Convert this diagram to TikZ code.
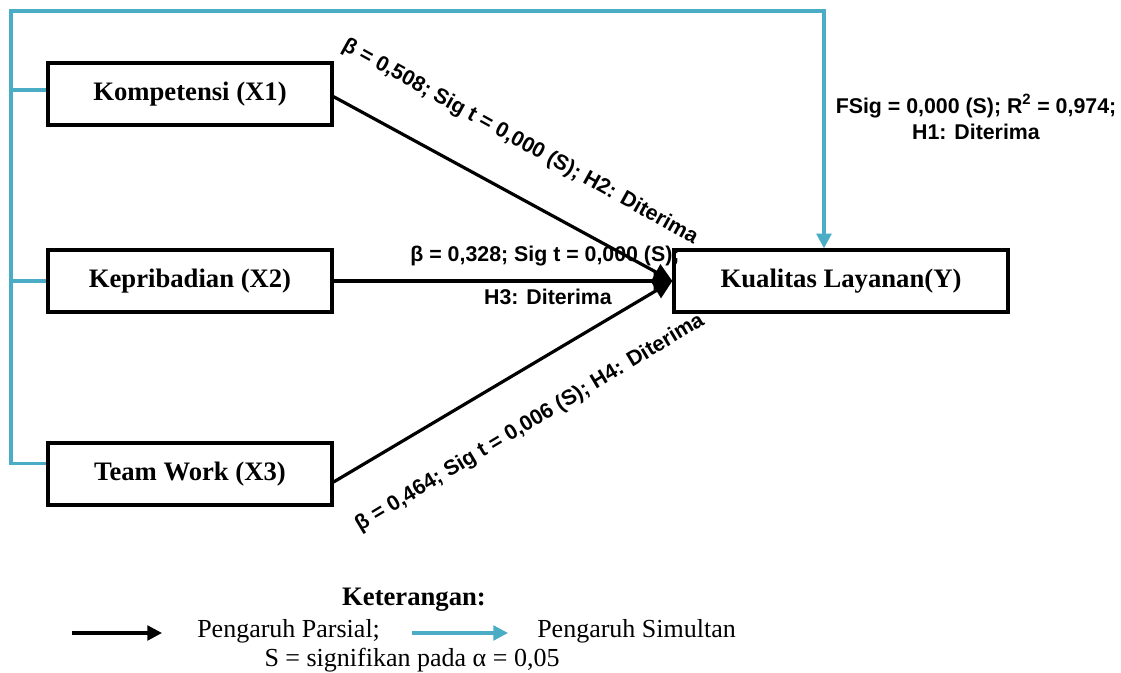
\documentclass[tikz,border=0pt]{standalone}
\usepackage{fontspec}
\setmainfont{Liberation Serif}
\newfontfamily\lblfont{Liberation Sans}
\usetikzlibrary{arrows.meta,positioning}
\definecolor{simblue}{RGB}{75,172,198}

\begin{document}
\begin{tikzpicture}[
    x=0.75pt, y=-0.75pt,
    box/.style={rectangle, draw=black, line width=2.4pt, minimum width=213pt, minimum height=46.5pt, font=\fontsize{20}{24}\selectfont\bfseries},
    arr/.style={-{Triangle[length=14pt,width=13pt]}, line width=2.4pt, black},
    simul/.style={line width=2.4pt, simblue},
    simarr/.style={simul, -{Triangle[length=11pt,width=11pt]}},
    lbl/.style={font=\lblfont\fontsize{16}{19.5}\selectfont\bfseries, inner sep=0pt},
    ket/.style={font=\fontsize{19.5}{22}\selectfont, inner sep=0pt}
  ]
    \useasboundingbox (0,0) rectangle (1121,673);
    \node[box] (komp) at (190,94) {Kompetensi (X1)};
    \node[box] (kepr) at (190,281) {Kepribadian (X2)};
    \node[box] (team) at (190,474) {Team Work (X3)};
    \node[box, minimum width=250.5pt] (kual) at (841,281) {Kualitas Layanan(Y)};
    % simultan
    \coordinate (railtop) at (11,11);
    \draw[simarr] ([yshift=8pt]team.west) -| (railtop) -| ([xshift=-12.75pt]kual.north);
    \draw[simul] ([yshift=3pt]komp.west) -- ++(-37,0);
    \draw[simul] (kepr.west) -- ++(-37,0);
    % parsial
    \draw[arr] ([yshift=-2pt]komp.east) -- (kual.west);
    \draw[arr] (kepr.east) -- (kual.west);
    \draw[arr] ([yshift=-6pt]team.east) -- (kual.west);
    \node[lbl, rotate=-29] (h2) at (520,142) {β = 0,508; Sig t = 0,000 (S); H2: Diterima};
    \node[lbl] (h3a) at (545,256) {β = 0,328; Sig t = 0,000 (S);};
    \node[lbl] (h3b) at (548,297) {H3: Diterima};
    \node[lbl, rotate=31] (h4) at (530,423) {β = 0,464; Sig t = 0,006 (S); H4: Diterima};
    \node[lbl, align=center] (h1) at (976,117) {FSig = 0,000 (S); R\textsuperscript{2} = 0,974;\\H1: Diterima};
    % keterangan
    \node[ket, font=\fontsize{20}{22}\selectfont\bfseries] (ket) at (414,600) {Keterangan:};
    \coordinate (parsA) at (72,633);
    \coordinate (parsB) at (162,633);
    \coordinate (simA) at (412,633);
    \coordinate (simB) at (508,633);
    \draw[arr, -{Triangle[length=11pt,width=11pt]}] (parsA) -- (parsB);
    \node[ket, anchor=west] (pars) at (197,631) {Pengaruh Parsial;};
    \draw[simarr] (simA) -- (simB);
    \node[ket, anchor=west] (simtxt) at (537,631) {Pengaruh Simultan};
    \node[ket] (sig) at (412,660) {S = signifikan pada α = 0,05};
  \end{tikzpicture}
\end{document}
